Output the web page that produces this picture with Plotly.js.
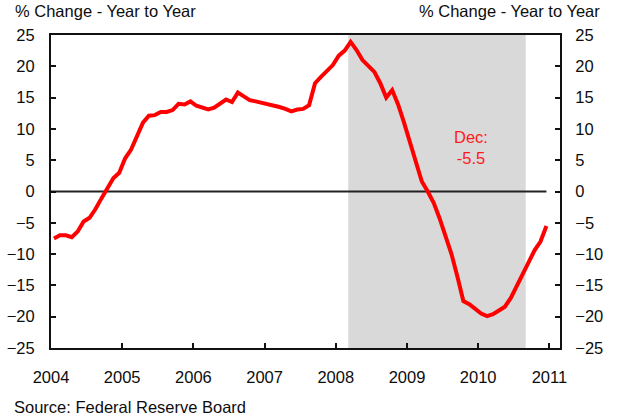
<!DOCTYPE html>
<html>
<head>
<meta charset="utf-8">
<script src="https://cdn.plot.ly/plotly-3.0.1.min.js"></script>
<style>
html,body{margin:0;padding:0;background:#fff;}
#chart{width:618px;height:417px;}
</style>
</head>
<body>
<div id="chart"></div>
<script>
// Monthly % change, year to year, Jan 2004 .. Dec 2010
var startYear = 2004;
var values = [
  -7.5, -7.0, -7.0, -7.3, -6.4, -4.8, -4.2, -2.8, -1.1, 0.6, 2.1, 3.0,
  5.3, 6.7, 8.9, 11.0, 12.1, 12.2, 12.7, 12.7, 13.0, 14.0, 13.9, 14.4,
  13.7, 13.4, 13.1, 13.4, 14.1, 14.7, 14.3, 15.8, 15.2, 14.6, 14.4, 14.2,
  14.0, 13.8, 13.5, 13.2, 12.8, 13.1, 13.2, 13.8, 17.3, 18.3, 19.2, 20.2,
  21.7, 22.5, 23.9, 22.6, 21.0, 20.1, 19.1, 17.3, 15.0, 16.2, 13.9, 11.0,
  7.7, 4.9, 1.6, 0.0, -1.8, -4.3, -7.1, -10.0, -13.6, -17.5, -18.0, -18.8,
  -19.5, -19.9, -19.6, -19.0, -18.4, -17.0, -15.1, -13.2, -11.0, -9.4, -8.0, -5.5
];
var yearTicks = [2004, 2005, 2006, 2007, 2008, 2009, 2010, 2011];
var yTicks = [-25, -20, -15, -10, -5, 0, 5, 10, 15, 20, 25];
var shadeStart = 2008.175;
var shadeEnd = 2010.667;
var axisTitle = "% Change - Year to Year";
var sourceText = "Source: Federal Reserve Board";
var noteText = "Dec:<br>-5.5";

var times = values.map(function(v, i){ return startYear + (i + 0.5) / 12; });

var FONT = "Liberation Sans, Arial, sans-serif";
var TXT = "#0d0d0d";

var trace = {
  x: times, y: values, type: "scatter", mode: "lines",
  line: {color: "#ff0000", width: 4},
  hoverinfo: "skip", showlegend: false
};
var ghost = {
  x: [times[0]], y: [values[0]], yaxis: "y2", type: "scatter", mode: "lines",
  line: {width: 0}, hoverinfo: "skip", showlegend: false
};

var layout = {
  width: 618, height: 417,
  margin: {l: 51, r: 58, t: 35, b: 69},
  paper_bgcolor: "#ffffff", plot_bgcolor: "rgba(0,0,0,0)",
  font: {family: FONT, size: 16.5, color: TXT},
  showlegend: false,
  xaxis: {
    range: [2004, 2011.149], tickmode: "array", tickvals: yearTicks,
    ticktext: yearTicks.map(String),
    ticks: "inside", ticklen: 5, tickwidth: 2, tickcolor: "#111",
    showline: true, linecolor: "#111", linewidth: 2, mirror: true,
    showgrid: false, zeroline: false, ticklabelstandoff: 13,
    tickfont: {family: FONT, size: 16.5, color: TXT}
  },
  yaxis: {
    range: [-25, 25], tickmode: "array", tickvals: yTicks,
    ticks: "inside", ticklen: 5, tickwidth: 2, tickcolor: "#111",
    showline: true, linecolor: "#111", linewidth: 2,
    showgrid: false, zeroline: false, ticklabelstandoff: 11,
    tickfont: {family: FONT, size: 16.5, color: TXT}
  },
  yaxis2: {
    overlaying: "y", side: "right",
    range: [-25, 25], tickmode: "array", tickvals: yTicks,
    ticks: "inside", ticklen: 5, tickwidth: 2, tickcolor: "#111",
    showline: true, linecolor: "#111", linewidth: 2,
    showgrid: false, zeroline: false, ticklabelstandoff: 10,
    tickfont: {family: FONT, size: 16.5, color: TXT}
  },
  shapes: [
    {type: "rect", xref: "x", yref: "paper", x0: shadeStart, x1: shadeEnd, y0: 0, y1: 1,
     fillcolor: "#d9d9d9", line: {width: 0}, layer: "below"},
    {type: "line", xref: "x", yref: "y", x0: 2004, x1: times[times.length - 1], y0: 0, y1: 0,
     line: {color: "#222", width: 1.8}, layer: "below"}
  ],
  annotations: [
    {text: axisTitle, xref: "paper", yref: "paper", x: -0.0752, y: 1.078,
     xanchor: "left", yanchor: "middle", showarrow: false,
     font: {family: FONT, size: 16.5, color: TXT}},
    {text: axisTitle, xref: "paper", yref: "paper", x: 1.082, y: 1.078,
     xanchor: "right", yanchor: "middle", showarrow: false,
     font: {family: FONT, size: 16.5, color: TXT}},
    {text: sourceText, xref: "paper", yref: "paper", x: -0.077, y: -0.19,
     xanchor: "left", yanchor: "middle", showarrow: false,
     font: {family: FONT, size: 16.5, color: TXT}},
    {text: noteText, xref: "x", yref: "y", x: 2009.9, y: 7.0,
     xanchor: "center", yanchor: "middle", showarrow: false, align: "center",
     font: {family: FONT, size: 16.5, color: "#ff1a1a"}}
  ]
};

Plotly.newPlot("chart", [trace, ghost], layout, {staticPlot: true, displayModeBar: false});
</script>
</body>
</html>
